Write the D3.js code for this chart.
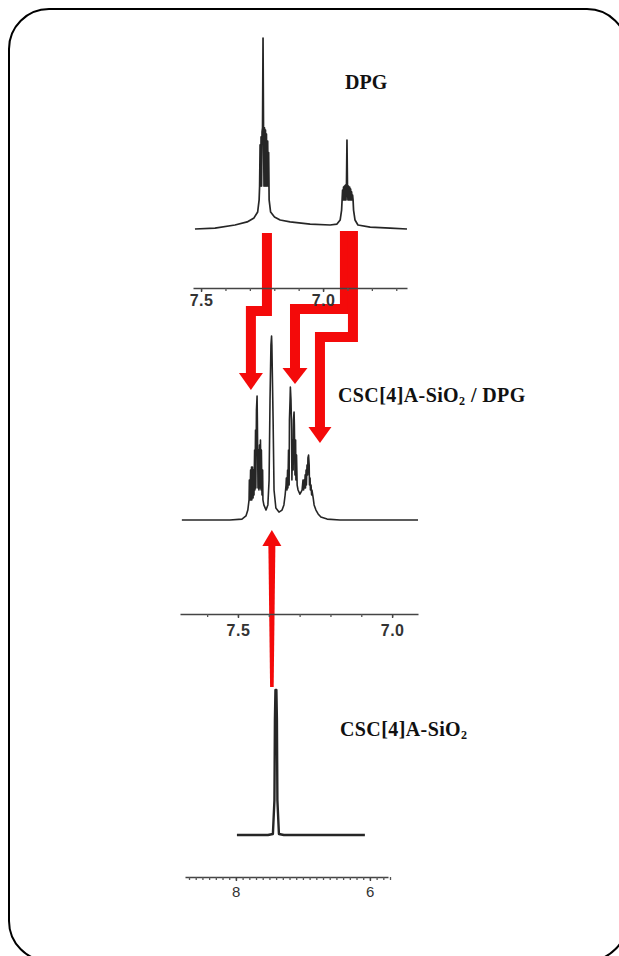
<!DOCTYPE html>
<html><head><meta charset="utf-8">
<script src="https://cdn.jsdelivr.net/npm/d3@7"></script>
<style>html,body{margin:0;padding:0;background:#fff;}svg{display:block;}</style>
</head><body>
<script>
// ---------------- DATA ----------------
// Top spectrum: DPG  (chemical shift ppm, relative intensity)
const dpgPpm = [7.525,7.443,7.361,7.311,7.283,7.268,7.262,7.260,7.258,7.256,7.254,7.252,7.250,7.248,7.246,7.244,7.242,7.240,7.238,7.236,7.234,7.232,7.230,7.227,7.225,7.223,7.221,7.215,7.199,7.176,7.135,7.053,6.971,6.943,6.930,6.924,6.922,6.920,6.918,6.916,6.914,6.912,6.910,6.908,6.906,6.904,6.902,6.900,6.898,6.896,6.893,6.891,6.889,6.887,6.885,6.883,6.881,6.879,6.877,6.875,6.869,6.857,6.807,6.725,6.656];
const dpgInt = [0,0.5,2.1,3.7,5.8,8.9,15.2,22.5,44.0,22.5,48.2,22.5,50.8,52.9,100,52.9,22.5,52.9,22.5,51.8,22.5,49.7,22.5,46.0,22.5,40.0,15.2,8.9,6.3,4.7,3.7,2.6,2.1,2.6,4.7,9.9,15.2,20.4,15.2,22.0,15.2,22.5,15.2,23.0,15.2,23.0,46.6,23.0,15.2,22.5,15.2,22.0,15.2,20.9,15.2,19.4,15.2,17.8,15.2,9.9,4.7,2.1,1.0,0.5,0];

// Middle spectrum: CSC[4]A-SiO2 / DPG
const mixPpm = [7.682,7.526,7.487,7.474,7.468,7.464,7.463,7.461,7.459,7.458,7.456,7.455,7.453,7.451,7.450,7.448,7.446,7.445,7.443,7.442,7.440,7.438,7.437,7.435,7.433,7.432,7.430,7.429,7.427,7.425,7.424,7.422,7.420,7.419,7.416,7.409,7.403,7.399,7.396,7.393,7.391,7.390,7.386,7.383,7.377,7.367,7.357,7.351,7.347,7.344,7.343,7.341,7.339,7.338,7.336,7.334,7.333,7.331,7.330,7.328,7.326,7.325,7.323,7.321,7.320,7.318,7.317,7.315,7.313,7.312,7.310,7.308,7.305,7.299,7.292,7.289,7.287,7.286,7.284,7.282,7.281,7.279,7.278,7.276,7.274,7.273,7.271,7.269,7.268,7.266,7.265,7.263,7.261,7.260,7.256,7.253,7.247,7.240,7.231,7.211,7.169,6.916];
const mixInt = [0,0,0.5,2.2,5.4,10.9,21.7,10.9,27.2,10.9,28.8,10.9,28.8,12.0,27.2,13.6,38.0,16.3,48.9,17.4,59.8,67.4,54.3,17.4,38.0,16.3,40.8,17.4,43.5,16.3,38.0,13.6,27.2,10.9,8.2,5.4,8.2,21.7,65.2,95.1,100,95.1,54.3,16.3,6.5,4.3,5.4,8.2,13.6,19.0,22.8,16.3,27.2,17.4,38.0,19.0,54.3,65.2,72.3,65.2,48.9,21.7,43.5,27.2,54.3,58.7,51.6,24.5,43.5,21.7,35.3,19.0,16.3,14.1,16.3,21.7,16.3,21.7,17.4,24.5,17.4,27.2,19.0,29.9,24.5,33.7,35.3,29.9,19.0,22.8,16.3,19.0,13.6,16.3,12.0,8.2,5.4,3.3,1.6,0.5,0,0];

// Bottom spectrum: CSC[4]A-SiO2
const cscPpm = [7.985,7.522,7.448,7.425,7.418,7.410,7.396,7.388,7.381,7.358,7.284,6.075];
const cscInt = [0,0,0.7,24.1,79.3,100,100,79.3,24.1,0.7,0,0];

// Axis extents and tick labels (ppm)
const topAxisDomain = [7.533, 6.656];
const midAxisDomain = [7.688, 6.916];
const botAxisDomain = [8.76, 5.73];
const topTickLabels = [7.5, 7.0];
const midTickLabels = [7.5, 7.0];
const botTickLabels = [8, 6];
const topMinorTicks = [7.5, 7.4, 7.3, 7.2, 7.1, 7.0, 6.9, 6.8, 6.7];
const midMinorTicks = [7.6, 7.5, 7.4, 7.3, 7.2, 7.1, 7.0];
const botMinorTicks = d3.range(57, 88).map(d => d / 10);

// Spectrum labels
const labelTop = "DPG";
const labelMid = ["CSC[4]A-SiO", "2", " / DPG"];
const labelBot = ["CSC[4]A-SiO", "2"];

// Red arrows: x in ppm (middle-spectrum scale)
const arrowA  = {xUp: 7.406, xDown: 7.458};
const arrowB1 = {xUp: 7.153, xDown: 7.315};
const arrowB2 = {xUp: 7.127, xDown: 7.234};
const arrowUp = {x: 7.390};

// ---------------- LAYOUT ----------------
const W = 619, H = 956;
const svg = d3.select("body").append("svg").attr("width", W).attr("height", H);
svg.append("rect").attr("x", 9).attr("y", 9).attr("width", 618).attr("height", 952)
  .attr("rx", 40).attr("ry", 40).attr("fill", "#fff").attr("stroke", "#000").attr("stroke-width", 2);

const xTop = d3.scaleLinear().domain(topAxisDomain).range([193, 407]);
const yTop = d3.scaleLinear().domain([0, 100]).range([229, 38]);
const xMid = d3.scaleLinear().domain(midAxisDomain).range([180, 418]);
const yMid = d3.scaleLinear().domain([0, 100]).range([520, 336]);
const xBot = d3.scaleLinear().domain(botAxisDomain).range([185, 388]);
const yBot = d3.scaleLinear().domain([0, 100]).range([835, 690]);

const RED = "#f40a0a";

// ---- red arrows (under axes) ----
const ar = svg.append("g");
function elbow(a, yTopPx, yJog, yHead, yTip, sw, hw) {
  const xu = xMid(a.xUp), xd = xMid(a.xDown);
  ar.append("path").attr("d", `M${xu},${yTopPx}V${yJog}H${xd}V${yHead + 1}`)
    .attr("fill", "none").attr("stroke", RED).attr("stroke-width", sw).attr("stroke-linejoin", "miter");
  ar.append("path").attr("d", `M${xd - hw / 2},${yHead}H${xd + hw / 2}L${xd},${yTip}Z`).attr("fill", RED);
}
elbow(arrowA, 233, 311, 373, 390, 10, 24);
elbow(arrowB1, 231, 309, 368, 384, 10, 25);
elbow(arrowB2, 231, 337, 427, 443, 10, 23);
{
  const x = xMid(arrowUp.x);
  ar.append("path").attr("d", `M${x - 3.5},545L${x - 1.8},687H${x + 1.8}L${x + 3.5},545Z`).attr("fill", RED);
  ar.append("path").attr("d", `M${x - 9.5},546H${x + 9.5}L${x},530Z`).attr("fill", RED);
}

// ---- spectra ----
function spectrum(px, iy, xs, ys, sw) {
  const pts = px.map((p, i) => [p, iy[i]]);
  svg.append("path").datum(pts)
    .attr("d", d3.line().x(d => xs(d[0])).y(d => ys(d[1])))
    .attr("fill", "none").attr("stroke", "#262626").attr("stroke-width", sw)
    .attr("stroke-linejoin", "round");
}
spectrum(dpgPpm, dpgInt, xTop, yTop, 1.7);
spectrum(mixPpm, mixInt, xMid, yMid, 1.6);
spectrum(cscPpm, cscInt, xBot, yBot, 2.4);

// ---- axes ----
function axis(scale, y, minors, majors, pad, fontSize, weight, fmt) {
  const g = svg.append("g").attr("transform", `translate(0,${y})`);
  g.call(d3.axisBottom(scale).tickValues(minors).tickSize(3).tickSizeOuter(0).tickFormat(""));
  g.select(".domain").attr("stroke", "#444").attr("stroke-width", 1.7);
  g.selectAll(".tick line").attr("stroke", "#555").attr("stroke-width", 1.3);
  const g2 = svg.append("g").attr("transform", `translate(0,${y})`);
  g2.call(d3.axisBottom(scale).tickValues(majors).tickSize(4).tickPadding(pad).tickFormat(fmt));
  g2.select(".domain").remove();
  g2.selectAll(".tick line").attr("stroke", "#444").attr("stroke-width", 1.4);
  g2.selectAll(".tick text").attr("fill", "#333").attr("font-family", "Liberation Sans, Arial, sans-serif")
    .attr("font-size", fontSize).attr("font-weight", weight).attr("letter-spacing", 0.5);
}
axis(xTop, 288, topMinorTicks, topTickLabels, 3, 16, "bold", d3.format(".1f"));
axis(xMid, 614, midMinorTicks, midTickLabels, 7, 16, "bold", d3.format(".1f"));
axis(xBot, 877, botMinorTicks, botTickLabels, 5, 15, "normal", d3.format("d"));

// ---- labels ----
const serif = "Liberation Serif, Times New Roman, serif";
svg.append("text").attr("x", 345).attr("y", 89).attr("font-family", serif).attr("font-weight", "bold")
  .attr("font-size", 20).attr("fill", "#111").text(labelTop);
function subLabel(x, y, parts) {
  const t = svg.append("text").attr("x", x).attr("y", y).attr("font-family", serif)
    .attr("font-weight", "bold").attr("font-size", 20).attr("fill", "#111").attr("letter-spacing", 0.4);
  t.append("tspan").text(parts[0]);
  t.append("tspan").attr("font-size", 12).attr("dy", 3).text(parts[1]);
  if (parts[2]) t.append("tspan").attr("font-size", 20).attr("dy", -3).text(parts[2]);
}
subLabel(338, 402, labelMid);
subLabel(340, 736, labelBot);
</script>
</body></html>
